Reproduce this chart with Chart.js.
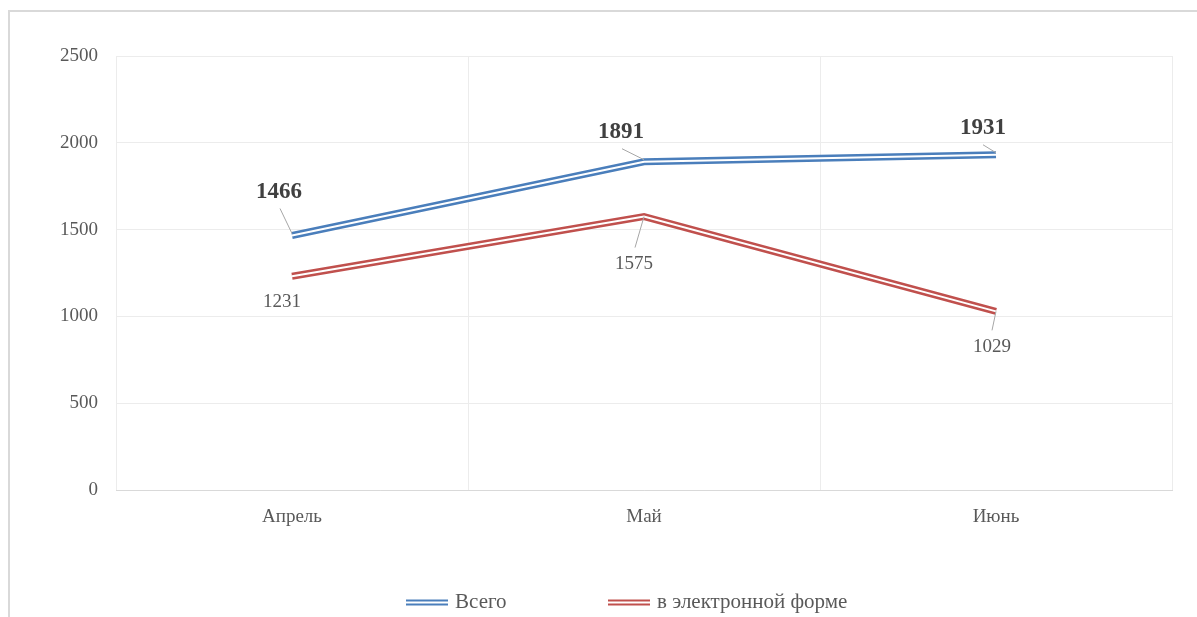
<!DOCTYPE html>
<html>
<head>
<meta charset="utf-8">
<script src="https://cdn.jsdelivr.net/npm/chart.js@4"></script>
<style>
  html, body { margin: 0; padding: 0; background: #fff; overflow: hidden; }
  #frame {
    position: absolute; left: 8px; top: 10px;
    width: 1236px; height: 640px;
    border: 2px solid #d9d9d9; background: #fff;
  }
  #chart { display: block; }
</style>
</head>
<body>
<div id="frame"><canvas id="chart" width="1236" height="605"></canvas></div>
<script>
  // Data
  const months = ['Апрель', 'Май', 'Июнь'];
  const totalValues = [1466, 1891, 1931];
  const electronicValues = [1231, 1575, 1029];
  const yTicks = [0, 500, 1000, 1500, 2000, 2500];

  const BLUE = '#4a7ebb';
  const RED = '#c0504d';
  const TEXT = '#595959';
  const FONT = '"Liberation Serif", "Times New Roman", serif';

  // small canvas used as the legend sample (double line)
  function doubleLineSample(color) {
    const c = document.createElement('canvas');
    c.width = 42; c.height = 8;
    const ctx = c.getContext('2d');
    ctx.fillStyle = color;
    ctx.fillRect(0, 1, 42, 2);
    ctx.fillRect(0, 5, 42, 2);
    return c;
  }

  // label placement per point (offsets from the point), leader start if any
  const labelPlacement = [
    [ { dx: -13, dy: -43, lx: -12, ly: -27 }, { dx: -23, dy: -30, lx: -22, ly: -13 }, { dx: -13, dy: -27, lx: -13, ly: -10 } ],
    [ { dx: -10, dy: 26 },                   { dx: -10, dy: 47, lx: -9, ly: 31 },    { dx: -4, dy: 36, lx: -4, ly: 19 } ]
  ];

  // Excel-like compound line: white stroke down the middle of each series
  const doubleLinePlugin = {
    id: 'doubleLine',
    afterDatasetsDraw(chart) {
      const ctx = chart.ctx;
      chart.data.datasets.forEach((ds, i) => {
        const pts = chart.getDatasetMeta(i).data;
        ctx.save();
        ctx.strokeStyle = '#fff';
        ctx.lineWidth = 2;
        ctx.lineJoin = 'miter';
        ctx.beginPath();
        pts.forEach((p, j) => j ? ctx.lineTo(p.x, p.y) : ctx.moveTo(p.x, p.y));
        ctx.stroke();
        ctx.restore();
      });
    }
  };

  // data labels with grey leader lines
  const valueLabelPlugin = {
    id: 'valueLabels',
    afterDatasetsDraw(chart) {
      const ctx = chart.ctx;
      chart.data.datasets.forEach((ds, i) => {
        const pts = chart.getDatasetMeta(i).data;
        pts.forEach((p, j) => {
          const pl = labelPlacement[i][j];
          ctx.save();
          if (pl.lx !== undefined) {
            ctx.strokeStyle = '#a6a6a6';
            ctx.lineWidth = 1;
            ctx.beginPath();
            ctx.moveTo(p.x + pl.lx, p.y + pl.ly);
            ctx.lineTo(p.x, p.y - (i === 0 ? 2 : 0));
            ctx.stroke();
          }
          ctx.fillStyle = i === 0 ? '#404040' : TEXT;
          ctx.font = (i === 0 ? 'bold 23px ' : '19px ') + FONT;
          ctx.textAlign = 'center';
          ctx.textBaseline = 'middle';
          ctx.fillText(String(ds.data[j]), p.x + pl.dx, p.y + pl.dy);
          ctx.restore();
        });
      });
    }
  };

  // legend padding is wide (for the gap between items), so pull the legend up
  const legendShift = {
    id: 'legendShift',
    afterLayout(chart) {
      chart.legend.top -= 42;
    }
  };

  const ctx = document.getElementById('chart').getContext('2d');
  const chart = new Chart(ctx, {
    type: 'line',
    data: {
      labels: months,
      datasets: [
        {
          label: 'Всего',
          data: totalValues,
          borderColor: BLUE,
          borderWidth: 7,
          tension: 0,
          fill: false,
          pointRadius: 0,
          pointStyle: doubleLineSample(BLUE)
        },
        {
          label: 'в электронной форме',
          data: electronicValues,
          borderColor: RED,
          borderWidth: 7,
          tension: 0,
          fill: false,
          pointRadius: 0,
          pointStyle: doubleLineSample(RED)
        }
      ]
    },
    options: {
      responsive: false,
      animation: false,
      layout: { padding: { left: 0, top: 44, right: 0, bottom: 0 } },
      plugins: {
        tooltip: { enabled: false },
        legend: {
          position: 'bottom',
          maxHeight: 87,
          labels: {
            usePointStyle: true,
            pointStyleWidth: 36,
            boxHeight: 8,
            padding: 104,
            color: TEXT,
            font: { family: FONT, size: 21 }
          }
        }
      },
      scales: {
        x: {
          offset: true,
          grid: { offset: true, color: '#ececec', lineWidth: 1, drawTicks: false },
          border: { color: '#d9d9d9' },
          ticks: { color: TEXT, font: { family: FONT, size: 19 }, padding: 16 },
          afterFit(s) { s.height = 40; }
        },
        y: {
          min: 0,
          max: 2500,
          afterBuildTicks(s) { s.ticks = yTicks.map(v => ({ value: v })); },
          grid: { color: '#ececec', lineWidth: 1, drawTicks: false },
          border: { display: false },
          ticks: { color: TEXT, font: { family: FONT, size: 19 }, padding: 18, callback: v => String(v) },
          afterFit(s) { s.width = 106; }
        },
        // empty right-hand axis keeps the margin right of the plot
        yRight: {
          position: 'right',
          grid: { display: false },
          border: { display: false },
          ticks: { display: false },
          afterFit(s) { s.width = 74; }
        }
      }
    },
    plugins: [doubleLinePlugin, valueLabelPlugin, legendShift]
  });
</script>
</body>
</html>
